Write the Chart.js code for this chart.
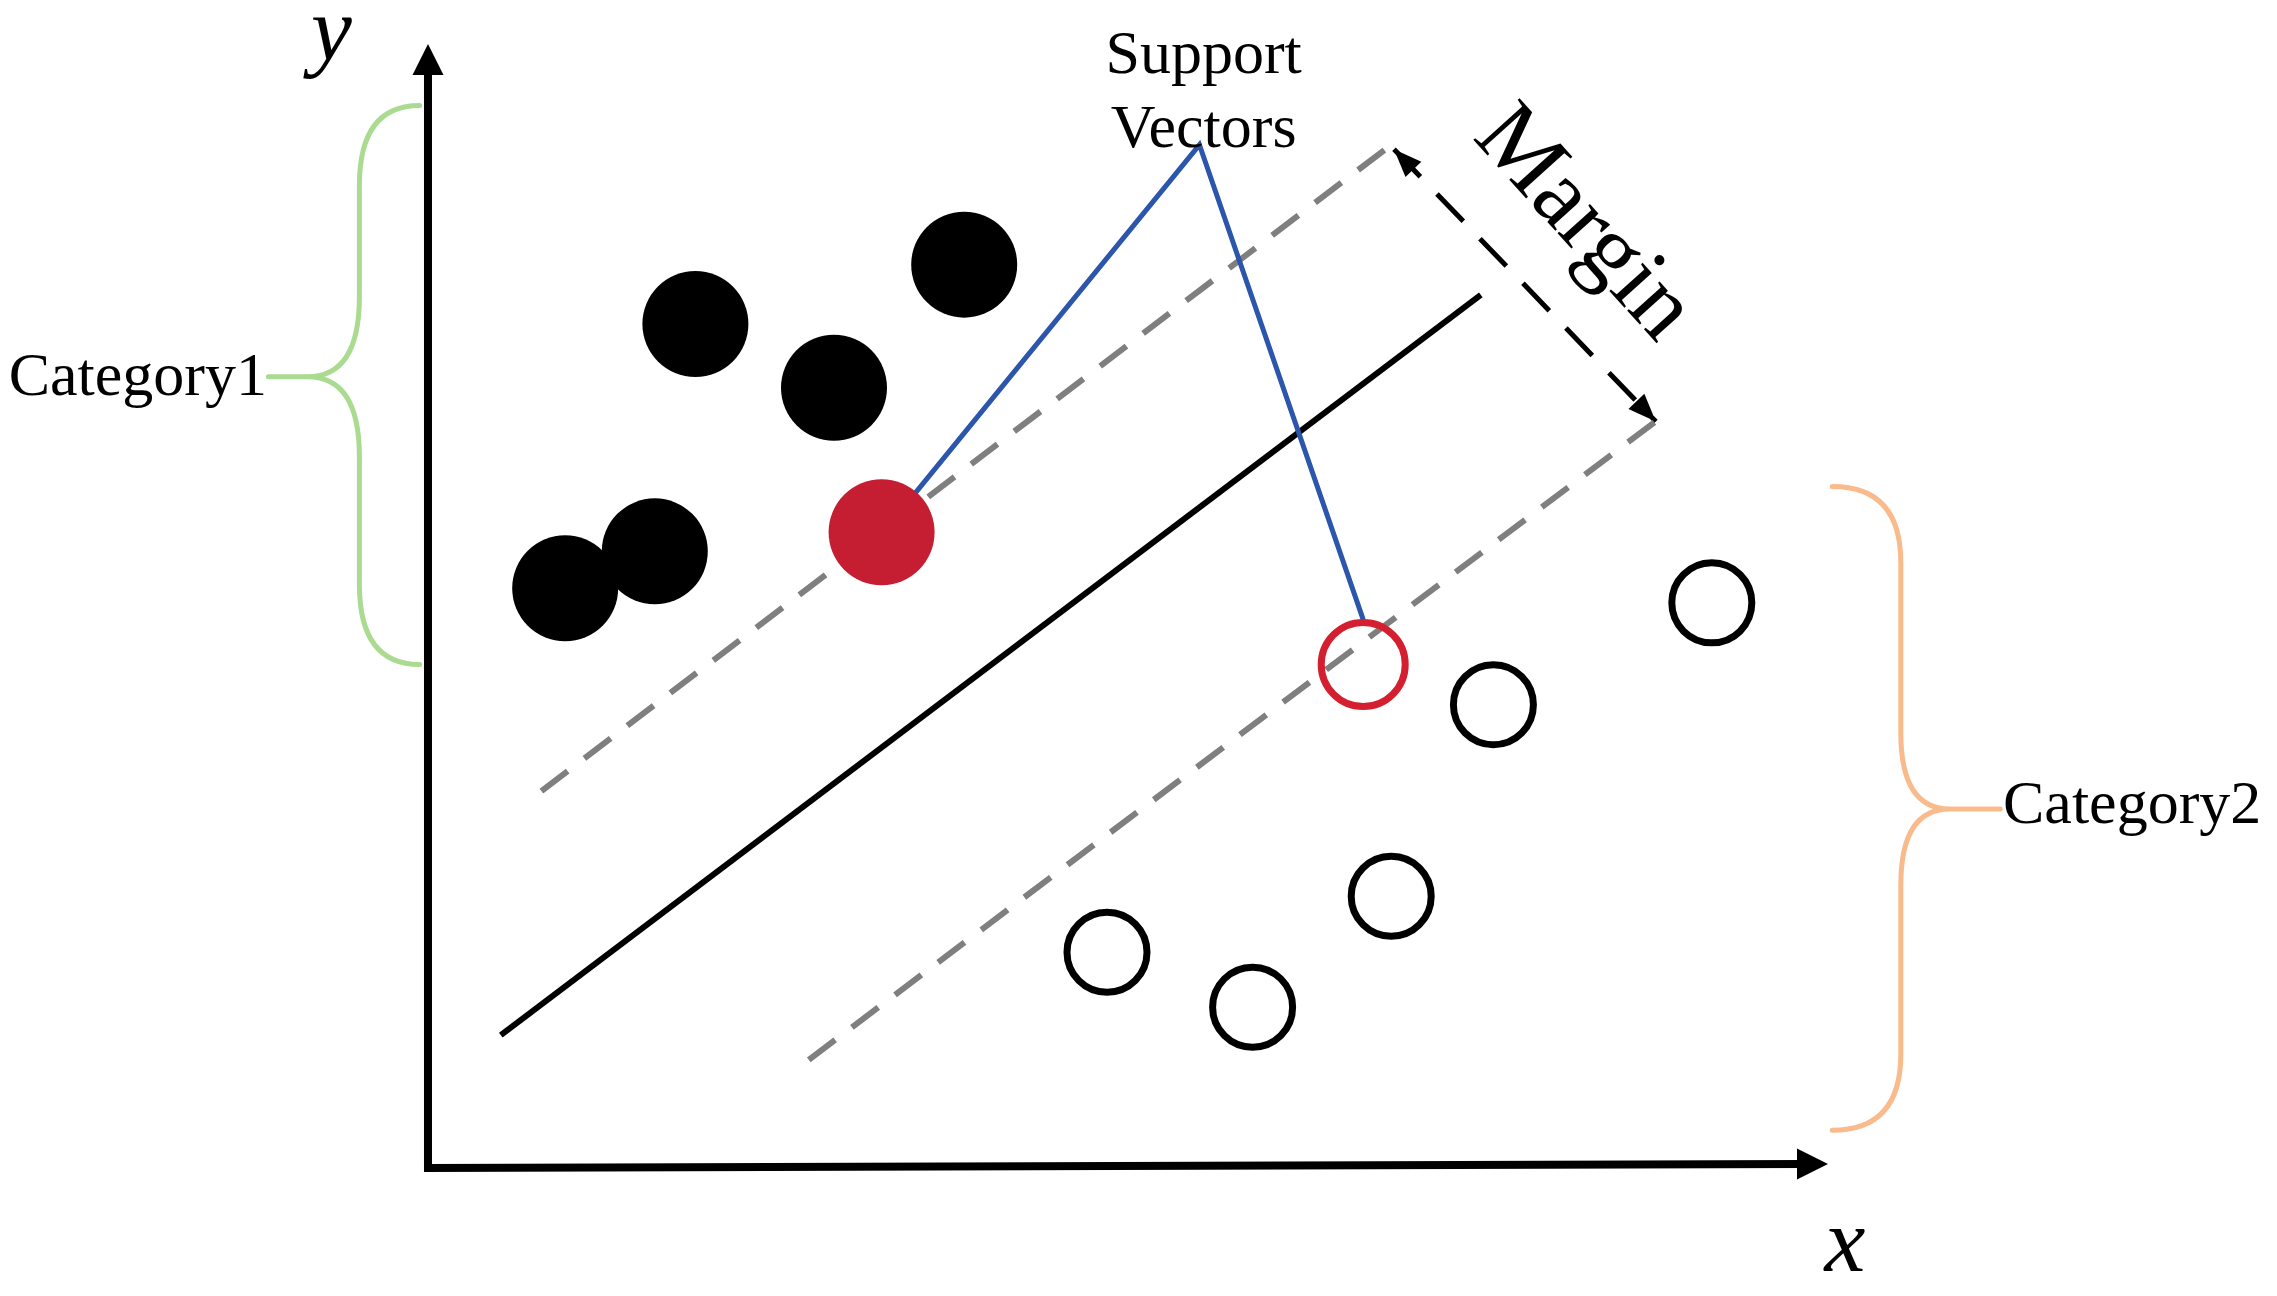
<!DOCTYPE html>
<html>
<head>
<meta charset="utf-8">
<title>SVM</title>
<script src="https://cdn.jsdelivr.net/npm/chart.js@4.4.1/dist/chart.umd.min.js"></script>
<style>
  html, body { margin: 0; padding: 0; background: #fff; }
  canvas { display: block; }
</style>
</head>
<body>
<canvas id="svmChart" width="2277" height="1296"></canvas>
<script>
// Data (diagram units: axis corner is 0,0; both arrows end at 10)
const category1X = [1.91, 3.83, 2.90, 1.62, 0.98];
const category1Y = [7.50, 8.03, 6.93, 5.47, 5.14];
const category2X = [9.17, 7.61, 6.88, 4.85, 5.89];
const category2Y = [5.01, 4.10, 2.39, 1.89, 1.40];
const supportFilled = [3.24, 5.64];   // support vector of category 1
const supportHollow = [6.68, 4.46];   // support vector of category 2

const hyperplaneX = [0.52, 7.52];
const hyperplaneY = [1.15, 7.76];
const upperMarginX = [0.81, 6.88];
const upperMarginY = [3.33, 9.10];
const lowerMarginX = [2.72, 8.80];
const lowerMarginY = [0.93, 6.66];
const marginArrowX = [6.90, 8.77];
const marginArrowY = [9.06, 6.63];
const pointerX = [3.48, 5.51, 6.68];
const pointerY = [5.99, 9.10, 4.86];

const axisLength = 10;

const serif = '"Liberation Serif", "Times New Roman", serif';

function toPoints(xs, ys) {
    return xs.map((x, i) => ({ x, y: ys[i] }));
}

function lineSet(xs, ys, color, width, dash, order) {
    return {
        data: toPoints(xs, ys),
        showLine: true,
        borderColor: color,
        borderWidth: width,
        borderDash: dash,
        pointRadius: 0,
        fill: false,
        tension: 0,
        order
    };
}

function drawArrowHead(ctx, fx, fy, tx, ty, len, width) {
    const a = Math.atan2(ty - fy, tx - fx);
    ctx.save();
    ctx.translate(tx, ty);
    ctx.rotate(a);
    ctx.beginPath();
    ctx.moveTo(0, 0);
    ctx.lineTo(-len, -width / 2);
    ctx.lineTo(-len, width / 2);
    ctx.closePath();
    ctx.fillStyle = '#000';
    ctx.fill();
    ctx.restore();
}

// brace: end x, vertical x, tip x, stub end x, top y, mid y, bottom y (diagram units)
function drawBrace(ctx, sx, sy, b, color, curve) {
    const ex = sx(b.end), vx = sx(b.spine), tx = sx(b.tip), lx = sx(b.stub);
    const yt = sy(b.top), ym = sy(b.mid), yb = sy(b.bottom);
    ctx.save();
    ctx.strokeStyle = color;
    ctx.lineWidth = 5;
    ctx.lineCap = 'round';
    ctx.beginPath();
    ctx.moveTo(ex, yt);
    ctx.quadraticCurveTo(vx, yt, vx, yt + curve);
    ctx.lineTo(vx, ym - curve);
    ctx.quadraticCurveTo(vx, ym, tx, ym);
    ctx.quadraticCurveTo(vx, ym, vx, ym + curve);
    ctx.lineTo(vx, yb - curve);
    ctx.quadraticCurveTo(vx, yb, ex, yb);
    ctx.moveTo(tx, ym);
    ctx.lineTo(lx, ym);
    ctx.stroke();
    ctx.restore();
}

const diagramPlugin = {
    id: 'diagram',
    beforeDatasetsDraw(chart) {
        const ctx = chart.ctx;
        const sx = v => chart.scales.x.getPixelForValue(v);
        const sy = v => chart.scales.y.getPixelForValue(v);
        const ox = sx(0), oy = sy(0);
        const xEnd = sx(axisLength), yEnd = sy(axisLength);

        ctx.save();
        ctx.strokeStyle = '#000';
        ctx.lineWidth = 8;
        ctx.beginPath();
        ctx.moveTo(ox, yEnd + 25);
        ctx.lineTo(ox, oy + 4);
        ctx.lineTo(xEnd - 25, oy);
        ctx.stroke();
        ctx.restore();
        drawArrowHead(ctx, ox, oy, xEnd, oy, 31, 31);
        drawArrowHead(ctx, ox, oy, ox, yEnd, 31, 31);
    },
    afterDatasetsDraw(chart) {
        const ctx = chart.ctx;
        const sx = v => chart.scales.x.getPixelForValue(v);
        const sy = v => chart.scales.y.getPixelForValue(v);

        // double-headed margin arrow
        const ax0 = sx(marginArrowX[0]), ay0 = sy(marginArrowY[0]);
        const ax1 = sx(marginArrowX[1]), ay1 = sy(marginArrowY[1]);
        drawArrowHead(ctx, ax1, ay1, ax0, ay0, 28, 22);
        drawArrowHead(ctx, ax0, ay0, ax1, ay1, 28, 22);

        drawBrace(ctx, sx, sy,
            { end: -0.06, spine: -0.49, tip: -0.86, stub: -1.14, top: 9.45, mid: 7.03, bottom: 4.46 },
            '#abdb90', 80);
        drawBrace(ctx, sx, sy,
            { end: 10.03, spine: 10.52, tip: 10.87, stub: 11.23, top: 6.05, mid: 3.17, bottom: 0.30 },
            '#f9ba8c', 76);

        ctx.save();
        ctx.fillStyle = '#000';
        ctx.textBaseline = 'alphabetic';

        ctx.font = 'italic 92px ' + serif;
        ctx.textAlign = 'center';
        ctx.fillText('y', sx(-0.69), sy(9.86));
        ctx.fillText('x', sx(10.12), sy(-0.96));

        ctx.font = '62px ' + serif;
        ctx.textAlign = 'right';
        ctx.fillText('Category1', sx(-1.15), sy(6.87));
        ctx.textAlign = 'left';
        ctx.fillText('Category2', sx(11.25), sy(3.04));

        ctx.textAlign = 'center';
        ctx.fillText('Support', sx(5.54), sy(9.74));
        ctx.fillText('Vectors', sx(5.54), sy(9.08));

        ctx.translate(sx(8.25), sy(8.39));
        ctx.rotate(48 * Math.PI / 180);
        ctx.font = '95px ' + serif;
        ctx.textBaseline = 'middle';
        ctx.fillText('Margin', 0, 0);
        ctx.restore();
    }
};

document.addEventListener('DOMContentLoaded', function () {
    const ctx = document.getElementById('svmChart').getContext('2d');
    new Chart(ctx, {
        type: 'scatter',
        data: {
            datasets: [
                {
                    data: toPoints(category1X, category1Y),
                    pointRadius: 53,
                    pointBackgroundColor: '#000',
                    pointBorderWidth: 0,
                    order: 0
                },
                {
                    data: toPoints(category2X, category2Y),
                    pointRadius: 40,
                    pointBackgroundColor: 'rgba(0,0,0,0)',
                    pointBorderColor: '#000',
                    pointBorderWidth: 7,
                    order: 0
                },
                {
                    data: [{ x: supportFilled[0], y: supportFilled[1] }],
                    pointRadius: 53,
                    pointBackgroundColor: '#c51d31',
                    pointBorderWidth: 0,
                    order: 0
                },
                {
                    data: [{ x: supportHollow[0], y: supportHollow[1] }],
                    pointRadius: 42,
                    pointBackgroundColor: 'rgba(0,0,0,0)',
                    pointBorderColor: '#d41f30',
                    pointBorderWidth: 7,
                    order: 0
                },
                lineSet(hyperplaneX, hyperplaneY, '#000', 6, [], 2),
                lineSet(upperMarginX, upperMarginY, '#7f7f7f', 6, [33, 21], 3),
                lineSet(lowerMarginX, lowerMarginY, '#7f7f7f', 6, [33, 21], 3),
                lineSet(marginArrowX, marginArrowY, '#000', 5, [38, 24], 3),
                lineSet(pointerX, pointerY, '#2b56ab', 5, [], 1)
            ]
        },
        options: {
            responsive: false,
            devicePixelRatio: 1,
            animation: false,
            layout: { padding: 0, autoPadding: false },
            plugins: {
                legend: { display: false },
                tooltip: { enabled: false }
            },
            scales: {
                x: { type: 'linear', display: false, min: -3.057, max: 13.207 },
                y: { type: 'linear', display: false, min: -1.179, max: 10.393 }
            }
        },
        plugins: [diagramPlugin]
    });
});
</script>
</body>
</html>
